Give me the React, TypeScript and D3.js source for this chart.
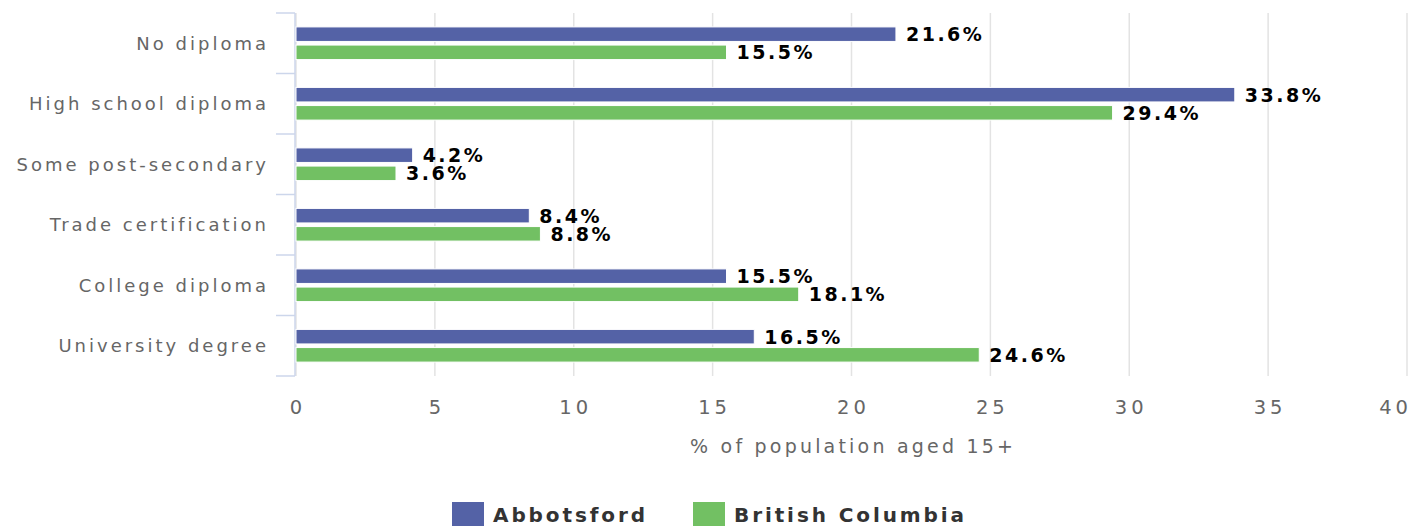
import * as d3 from "d3";
import React from "react";

const categories = [
  "No diploma",
  "High school diploma",
  "Some post-secondary",
  "Trade certification",
  "College diploma",
  "University degree",
];
const abbotsford = [21.6, 33.8, 4.2, 8.4, 15.5, 16.5];
const britishColumbia = [15.5, 29.4, 3.6, 8.8, 18.1, 24.6];
const seriesNames = ["Abbotsford", "British Columbia"];
const seriesColors = ["#5462a6", "#72c063"];
const xTicks = [0, 5, 10, 15, 20, 25, 30, 35, 40];

const W = 1425;
const H = 529;
const left = 295;
const right = 1407;
const top = 13;
const bottom = 376;
const FONT = "'DejaVu Sans', sans-serif";

const catLs = 3;
const tickLs = 4;
const valLs = 2.5;
const legLs = 2.9;

export default function App() {
  const x = d3.scaleLinear().domain([0, 40]).range([left + 1, right]);
  const y = d3.scaleBand<string>().domain(categories).range([top, bottom]);
  const inner = d3
    .scaleBand<number>()
    .domain([0, 1])
    .range([y.bandwidth() * 0.2, y.bandwidth() * 0.8])
    .paddingInner(0.2)
    .paddingOuter(0.1);

  const series = [abbotsford, britishColumbia];
  const boundaries = categories.map((c) => y(c)!).concat([bottom]);

  return (
    <div style={{ position: "absolute", left: 0, top: 0 }}>
      <svg width={W} height={H} style={{ fontFamily: FONT, display: "block" }}>
        <rect width={W} height={H} fill="#fff" />
        {/* grid */}
        {xTicks.map((t) => (
          <line
            key={t}
            x1={x(t)}
            x2={x(t)}
            y1={top}
            y2={bottom}
            stroke="#e3e3e3"
            strokeWidth={1.5}
          />
        ))}
        {/* y axis */}
        <line x1={left} x2={left} y1={top} y2={bottom} stroke="#ccd6eb" strokeWidth={1.5} />
        {boundaries.map((b, i) => (
          <line key={i} x1={left - 19} x2={left} y1={b} y2={b} stroke="#ccd6eb" strokeWidth={1.5} />
        ))}
        {categories.map((c) => (
          <text
            key={c}
            x={266 + catLs}
            y={y(c)! + y.bandwidth() / 2}
            dy="0.36em"
            textAnchor="end"
            fill="#666"
            fontSize={18}
            letterSpacing={catLs}
          >
            {c}
          </text>
        ))}
        {/* bars */}
        {series.map((vals, si) =>
          vals.map((v, i) => {
            const by = y(categories[i])! + inner(si)!;
            return (
              <g key={si + "-" + i}>
                <rect
                  x={x(0)}
                  y={by}
                  width={x(v) - x(0)}
                  height={inner.bandwidth()}
                  fill={seriesColors[si]}
                  stroke="#fff"
                  strokeWidth={1}
                />
                <text
                  x={x(v) + 10}
                  y={by + inner.bandwidth() / 2}
                  dy="0.36em"
                  fill="#000"
                  fontSize={19}
                  fontWeight="bold"
                  letterSpacing={valLs}
                >
                  {v.toFixed(1) + "%"}
                </text>
              </g>
            );
          })
        )}
        {/* x tick labels */}
        {xTicks.map((t, i) => {
          const last = i === xTicks.length - 1;
          return (
            <text
              key={t}
              x={last ? 1408 + tickLs : x(t) + tickLs / 2}
              y={413.5}
              textAnchor={last ? "end" : "middle"}
              fill="#666"
              fontSize={19.5}
              letterSpacing={tickLs}
            >
              {t}
            </text>
          );
        })}
        <text
          x={(x(0) + x(40)) / 2 + 1.6}
          y={453}
          textAnchor="middle"
          fill="#666"
          fontSize={19}
          letterSpacing={3.2}
        >
          % of population aged 15+
        </text>
        {/* legend */}
        {seriesNames.map((n, i) => {
          const lx = i === 0 ? 452 : 693;
          return (
            <g key={n}>
              <rect x={lx} y={502} width={32} height={24} fill={seriesColors[i]} />
              <text
                x={lx + 41}
                y={522.3}
                fill="#333"
                fontSize={20}
                fontWeight="bold"
                letterSpacing={legLs}
              >
                {n}
              </text>
            </g>
          );
        })}
      </svg>
    </div>
  );
}
